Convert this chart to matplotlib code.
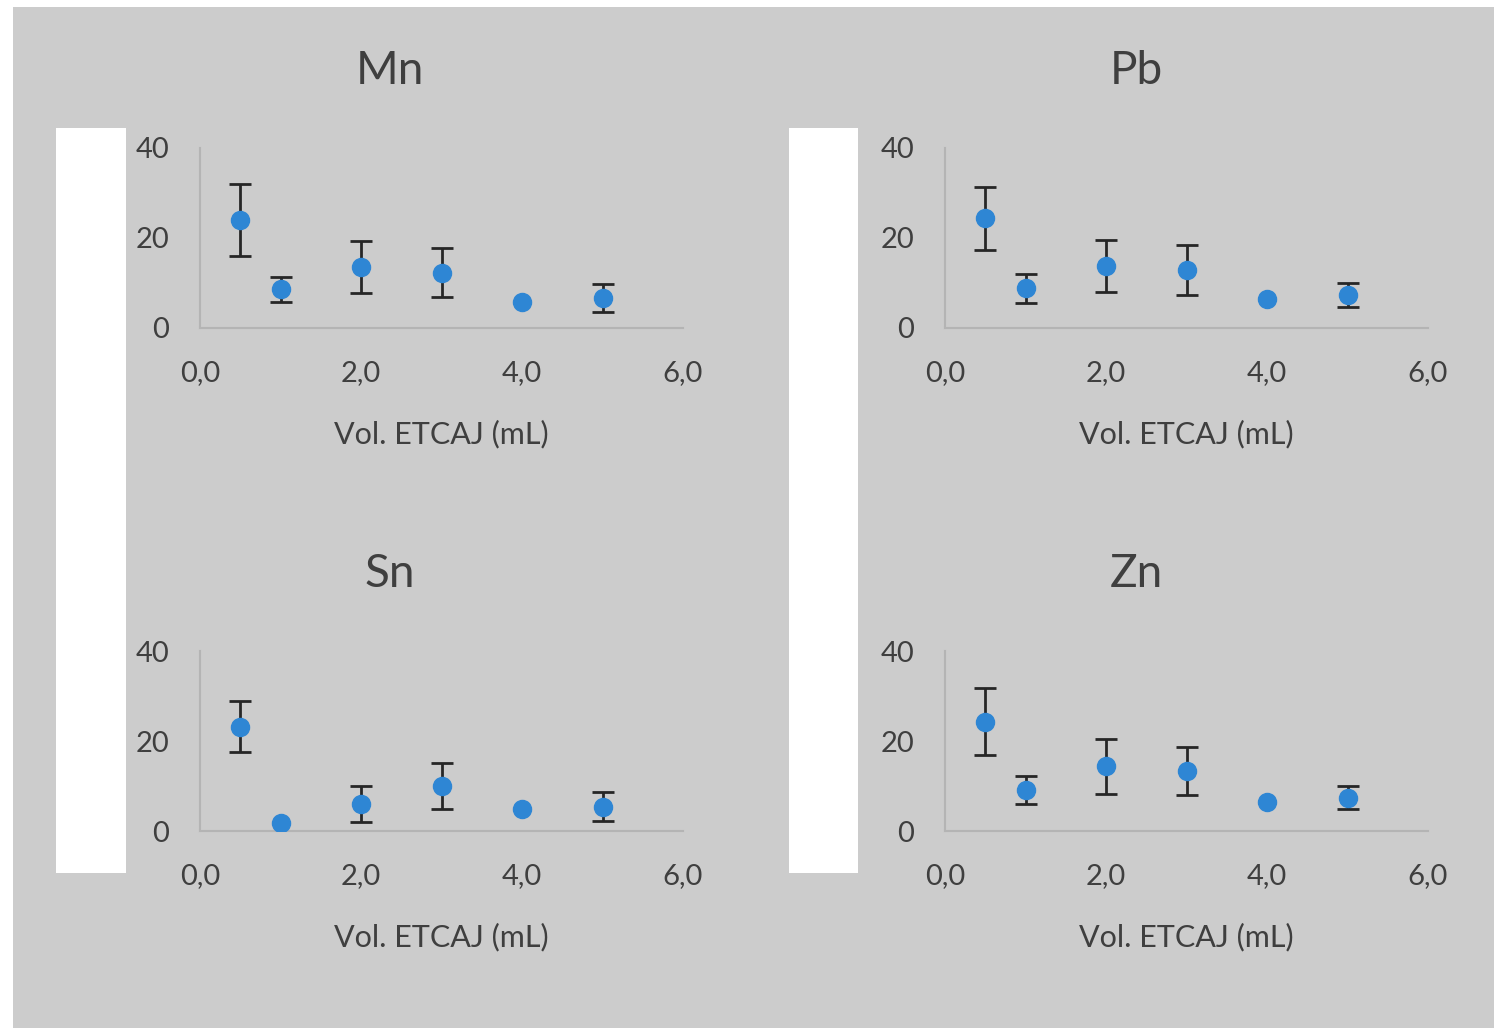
import matplotlib
matplotlib.use("Agg")
import matplotlib.pyplot as plt
from matplotlib.patches import Rectangle
from matplotlib.ticker import FuncFormatter

# --- datos ---
vol = [0.5, 1.0, 2.0, 3.0, 4.0, 5.0]

mn_val = [24.0, 8.6, 13.6, 12.3, 5.8, 6.7]
mn_err = [8.0, 2.8, 5.8, 5.5, 0.0, 3.1]

pb_val = [24.4, 8.8, 13.8, 12.9, 6.4, 7.3]
pb_err = [7.0, 3.3, 5.8, 5.5, 0.0, 2.6]

sn_val = [23.2, 1.7, 6.0, 10.0, 4.8, 5.4]
sn_err = [5.6, 0.0, 3.9, 5.1, 0.0, 3.2]

zn_val = [24.3, 9.1, 14.4, 13.4, 6.5, 7.4]
zn_err = [7.5, 3.1, 6.1, 5.3, 0.0, 2.6]

# nombre, valores, errores, x del eje (px), y del cero (px), x del titulo, y del titulo
paneles = [
    ("Mn", mn_val, mn_err, 200, 328, 390, 71),
    ("Pb", pb_val, pb_err, 945, 328, 1136, 71),
    ("Sn", sn_val, sn_err, 200, 831, 390, 574),
    ("Zn", zn_val, zn_err, 945, 831, 1136, 574),
]

W, H = 1494, 1028
gris = "#cccccc"
texto = "#3f3f3f"
azul = "#2e86d4"
fuente = "Lato"

fig = plt.figure(figsize=(W / 100, H / 100), dpi=100, facecolor="white")

# fondo gris y recuadros blancos (coordenadas en pixeles)
def rect_px(x0, y0, x1, y1, color):
    fig.patches.append(Rectangle((x0 / W, 1 - y1 / H), (x1 - x0) / W, (y1 - y0) / H,
                                 transform=fig.transFigure, facecolor=color,
                                 edgecolor="none", zorder=-10))

rect_px(13, 7, W, H, gris)
rect_px(56, 128, 126, 873, "white")
rect_px(789, 128, 858, 873, "white")

coma = FuncFormatter(lambda v, p: f"{v:.1f}".replace(".", ","))

for nombre, val, err, x0, y0, tx, ty in paneles:
    ax_w, ax_h = 483, 180
    ax = fig.add_axes([x0 / W, 1 - y0 / H, ax_w / W, ax_h / H])
    ax.set_facecolor("none")
    # barras de error solo donde hay desviacion
    xe = [x for x, e in zip(vol, err) if e > 0]
    ye = [y for y, e in zip(val, err) if e > 0]
    ee = [e for e in err if e > 0]
    ax.errorbar(xe, ye, yerr=ee, fmt="none", ecolor="#262626", elinewidth=2,
                capsize=8, capthick=2, zorder=2)
    ax.plot(vol, val, "o", color=azul, markersize=13, zorder=3)
    ax.set_xlim(0, 6)
    ax.set_ylim(0, 40)
    ax.set_xticks([0, 2, 4, 6])
    ax.set_yticks([0, 20, 40])
    ax.xaxis.set_major_formatter(coma)
    for s in ["top", "right"]:
        ax.spines[s].set_visible(False)
    for s in ["left", "bottom"]:
        ax.spines[s].set_color("#b4b4b4")
        ax.spines[s].set_linewidth(1.5)
    ax.tick_params(length=0, labelsize=21, colors=texto)
    ax.tick_params(axis="x", pad=23)
    ax.tick_params(axis="y", pad=22)
    for lab in ax.get_xticklabels() + ax.get_yticklabels():
        lab.set_fontfamily(fuente)
    ax.set_xlabel("Vol. ETCAJ (mL)", fontsize=22, color=texto, family=fuente, labelpad=24)
    fig.text(tx / W, 1 - ty / H, nombre, fontsize=33, color=texto, family=fuente,
             ha="center", va="center")

fig.savefig("out.png", dpi=100, facecolor="white")
